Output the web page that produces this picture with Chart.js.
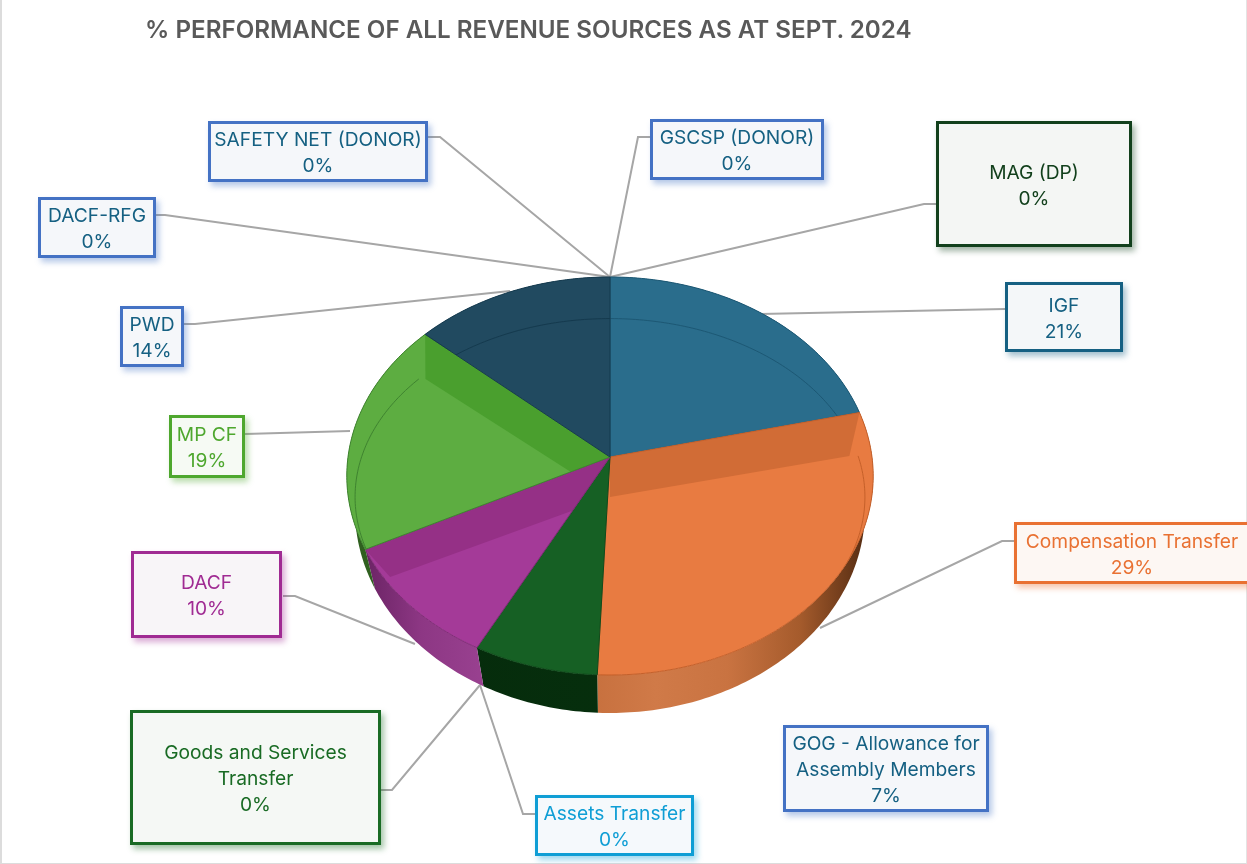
<!DOCTYPE html>
<html>
<head>
<script src="https://cdn.jsdelivr.net/npm/chart.js"></script>
<title>Revenue sources</title>
<style>
  html, body { margin: 0; background: #fff; }
  #page { position: relative; width: 1247px; height: 864px; overflow: hidden; font-family: Inter, sans-serif; }
  #page canvas { position: absolute; left: 0; top: 0; }
  #frame { position: absolute; inset: 0; border-left: 2px solid #dcdcdc; border-right: 1px solid #e4e4e4; border-bottom: 1px solid #dcdcdc; pointer-events: none; }
  h1 { position: absolute; left: 145px; top: 14px; margin: 0; font-size: 24.2px; line-height: 32px; font-weight: 600; color: #595959; white-space: nowrap; }
  .box { position: absolute; box-sizing: border-box; display: flex; align-items: center; justify-content: center; text-align: center; font-size: 19.2px; line-height: 26px; padding: 1px 2px 0; border-style: solid; border-width: 3px; }
</style>
</head>
<body>
<div id="page">
  <canvas id="pie" width="1247" height="864"></canvas>
  <h1>% PERFORMANCE OF ALL REVENUE SOURCES AS AT SEPT. 2024</h1>
  <div id="frame"></div>
</div>

<script>
// chart data, clockwise from 12 o'clock
const categories = ['IGF', 'Compensation Transfer', 'GOG - Allowance for Assembly Members', 'Goods and Services Transfer',
  'Assets Transfer', 'DACF', 'MP CF', 'PWD', 'DACF-RFG', 'SAFETY NET (DONOR)', 'GSCSP (DONOR)', 'MAG (DP)'];
const values = [21.3, 29.4, 7.0, 0, 0, 9.9, 18.9, 13.5, 0, 0, 0, 0];

// slice styling
const faceColors = ['#2a6d8c', '#e87b41', '#166024', '#196b24', '#0f9ed5', '#a43a98', '#5dad41', '#214a60', '#4472c4', '#4472c4', '#4472c4', '#12401c'];
const edgeColors = ['#1d5874', '#c5602a', '#104a1b', '#104a1b', '#0f9ed5', '#7f2a76', '#3f8330', '#153a4e', '#4472c4', '#4472c4', '#4472c4', '#12401c'];
const bandColors = [null, '#d16c36', null, null, null, '#953086', '#4a9f2e', null, null, null, null, null];
const bandEdges = [null, 'start', null, null, null, 'end', 'end', null, null, null, null, null];
const wallStops = [
  ['#1d5874', '#1d5874'], ['#c66f3d', '#d07a48', '#c97341', '#a55b2c', '#4e2810'], ['#052a0b', '#07330f'], ['#052a0b', '#052a0b'],
  ['#0f9ed5', '#0f9ed5'], ['#6a2364', '#8d3784', '#98408f'], ['#2f5f1f', '#3f7a2a'], ['#153a4e', '#153a4e'],
  ['#333', '#333'], ['#333', '#333'], ['#333', '#333'], ['#333', '#333']
];
const wallFrom = [0, 0.45, 0, 0, 0, 0.03, 0, 0, 0, 0, 0, 0];
const wallTo = [1, 1, 1, 1, 1, 0.25, 1, 1, 1, 1, 1, 1];

// callout boxes, same order as categories: left, top, width, height, border, text
const boxLeft = [1005, 1014, 783, 130, 535, 131, 169, 120, 38, 208, 650, 936];
const boxTop = [282, 522, 725, 710, 795, 551, 415, 306, 197, 121, 119, 121];
const boxWidth = [118, 236, 206, 251, 159, 151, 76, 64, 118, 220, 174, 196];
const boxHeight = [70, 62, 87, 135, 61, 87, 63, 61, 61, 61, 61, 126];
const boxBorder = ['#156082', '#e97132', '#4472c4', '#196b24', '#0f9ed5', '#a02b93', '#4ea72e', '#4472c4', '#4472c4', '#4472c4', '#4472c4', '#12401c'];
const boxText = ['#156082', '#e97132', '#156082', '#196b24', '#0f9ed5', '#a02b93', '#4ea72e', '#156082', '#156082', '#156082', '#156082', '#12401c'];
const boxFill = ['#f4f7f9', '#fdf7f3', '#f5f7fa', '#f5f8f5', '#f5f9fc', '#f8f5f8', '#f6faf4', '#f5f7fa', '#f5f7fa', '#f5f7fa', '#f5f7fa', '#f4f6f4'];

// leader lines from the boxes to the pie edge
const leaders = [
  [[1005, 309], [760, 314]],
  [[1014, 541], [1002, 541], [820, 628]],
  [[381, 790], [392, 790], [480, 685]],
  [[535, 814], [523, 814], [480, 685]],
  [[283, 596], [295, 596], [415, 644]],
  [[245, 434], [350, 431]],
  [[184, 324], [195, 324], [510, 291]],
  [[156, 215], [165, 215], [610, 277]],
  [[428, 137], [440, 137], [610, 277]],
  [[650, 137], [638, 137], [610, 277]],
  [[936, 204], [924, 204], [610, 277]]
];

// the tilted disc: top face, cap inside it, and the rim underneath
const topFace = { k: 0.0955, sx: 1, sy: 0.7527, dy: 0 };
const capFace = { k: 0, sx: 0.973, sy: 0.681, dy: 40 };
const rimFace = { k: 0.0738, sx: 0.9706, sy: 0.7706, dy: 38 };
const bandInset = 0.965;

function project(arc, theta, geo) {
  const u = Math.sin(theta), v = Math.cos(theta), w = 1 + geo.k * v;
  return [arc.x + geo.sx * arc.outerRadius * u / w, arc.y + geo.dy - geo.sy * arc.outerRadius * v / w];
}

function edgePoints(arc, geo) {
  const a = arc.startAngle + Math.PI / 2, b = arc.endAngle + Math.PI / 2;
  const steps = Math.max(2, Math.ceil((b - a) * 60));
  const pts = [];
  for (let s = 0; s <= steps; s++) pts.push(project(arc, a + (b - a) * s / steps, geo));
  return pts;
}

function wedge(ctx, arc, geo) {
  ctx.beginPath();
  ctx.moveTo(arc.x, arc.y + geo.dy);
  edgePoints(arc, geo).forEach(p => ctx.lineTo(p[0], p[1]));
  ctx.closePath();
}

const tiltedPie = {
  id: 'tiltedPie',
  beforeDatasetDraw(chart, args) {
    const ctx = chart.ctx;
    const arcs = args.meta.data;

    ctx.strokeStyle = '#a6a6a6';
    ctx.lineWidth = 2;
    leaders.forEach(line => {
      ctx.beginPath();
      line.forEach((p, i) => i ? ctx.lineTo(p[0], p[1]) : ctx.moveTo(p[0], p[1]));
      ctx.stroke();
    });

    // rim: strip between the top edge and the lower edge of each slice
    arcs.forEach((arc, i) => {
      if (!values[i]) return;
      const grad = ctx.createLinearGradient(arc.x - arc.outerRadius, 0, arc.x + arc.outerRadius, 0);
      const stops = wallStops[i];
      stops.forEach((c, n) => grad.addColorStop(wallFrom[i] + (wallTo[i] - wallFrom[i]) * n / (stops.length - 1), c));
      const strip = edgePoints(arc, topFace).concat(edgePoints(arc, rimFace).reverse());
      ctx.beginPath();
      strip.forEach((p, n) => n ? ctx.lineTo(p[0], p[1]) : ctx.moveTo(p[0], p[1]));
      ctx.closePath();
      ctx.fillStyle = grad;
      ctx.fill();
    });

    arcs.forEach((arc, i) => {
      if (!values[i]) return;
      wedge(ctx, arc, topFace);
      ctx.fillStyle = faceColors[i];
      ctx.fill();

      ctx.save();
      ctx.clip();
      if (bandEdges[i]) {
        const theta = (bandEdges[i] === 'start' ? arc.startAngle : arc.endAngle) + Math.PI / 2;
        const p1 = project(arc, theta, topFace), p2 = project(arc, theta, capFace);
        ctx.beginPath();
        ctx.moveTo(arc.x, arc.y);
        ctx.lineTo(p1[0], p1[1]);
        ctx.lineTo(arc.x + (p2[0] - arc.x) * bandInset, p2[1]);
        ctx.lineTo(arc.x, arc.y + capFace.dy);
        ctx.closePath();
        ctx.fillStyle = bandColors[i];
        ctx.fill();
      }
      ctx.beginPath();
      edgePoints(arc, capFace).forEach(p => ctx.lineTo(p[0], p[1]));
      ctx.strokeStyle = edgeColors[i];
      ctx.lineWidth = 1;
      ctx.stroke();
      ctx.restore();

      wedge(ctx, arc, topFace);
      ctx.strokeStyle = edgeColors[i];
      ctx.lineWidth = 1;
      ctx.stroke();
    });
    return false;
  }
};

new Chart(document.getElementById('pie'), {
  type: 'pie',
  data: { labels: categories, datasets: [{ data: values, backgroundColor: faceColors, borderWidth: 0 }] },
  options: {
    responsive: false,
    animation: false,
    layout: { padding: { left: 348, right: 375, top: 195, bottom: 145 } },
    plugins: { legend: { display: false }, tooltip: { enabled: false } }
  },
  plugins: [tiltedPie]
});

// callouts
const page = document.getElementById('page');
categories.forEach((name, i) => {
  const box = document.createElement('div');
  box.className = 'box';
  box.style.left = boxLeft[i] + 'px';
  box.style.top = boxTop[i] + 'px';
  box.style.width = boxWidth[i] + 'px';
  box.style.height = boxHeight[i] + 'px';
  box.style.borderColor = boxBorder[i];
  box.style.color = boxText[i];
  box.style.background = boxFill[i];
  box.style.boxShadow = '3px 4px 6px ' + boxBorder[i] + '66';
  const span = document.createElement('span');
  span.innerHTML = name + '<br>' + Math.round(values[i]) + '%';
  box.appendChild(span);
  page.appendChild(box);
});
</script>
</body>
</html>
